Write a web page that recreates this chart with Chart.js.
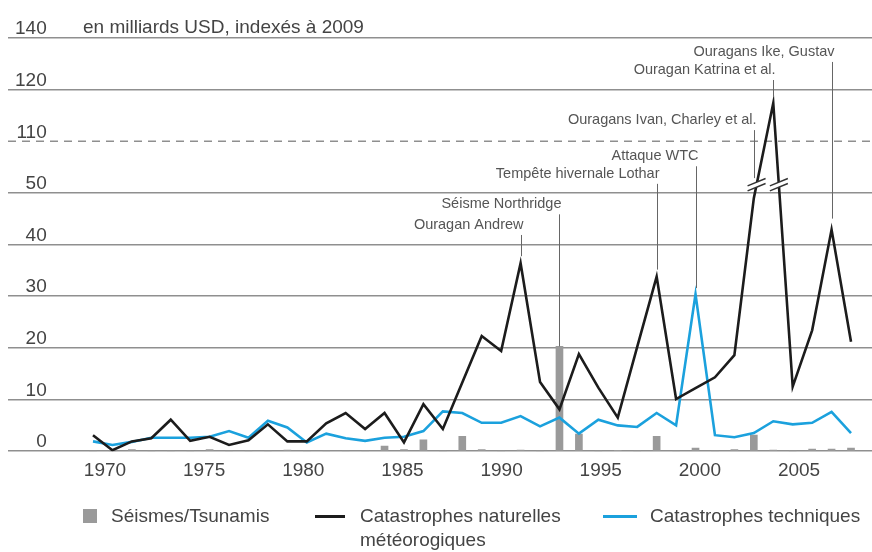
<!DOCTYPE html>
<html lang="fr">
<head>
<meta charset="utf-8">
<title>Catastrophes 1970-2009</title>
<script src="https://cdn.jsdelivr.net/npm/chart.js@4.4.1/dist/chart.umd.min.js"></script>
<style>
  body { margin: 0; background: #fff; }
  #wrap { position: relative; width: 872px; height: 552px; font-family: "Liberation Sans", Arial, sans-serif; color: #444; }
  #chart { position: absolute; left: 0; top: 0; }
  .txt { position: absolute; font-size: 19px; line-height: 24px; white-space: nowrap; }
  .key { position: absolute; }
</style>
</head>
<body>
<div id="wrap">
  <canvas id="chart" width="872" height="552"></canvas>
  <div class="txt" style="left:83px; top:15px;">en milliards USD, indexés à 2009</div>

  <div class="key" style="left:83px; top:509px; width:14px; height:14px; background:#9a9a9a;"></div>
  <div class="txt" style="left:111px; top:504px;">Séismes/Tsunamis</div>
  <div class="key" style="left:315px; top:515px; width:30px; height:3px; background:#1c1c1c;"></div>
  <div class="txt" style="left:360px; top:504px;">Catastrophes naturelles<br>météorogiques</div>
  <div class="key" style="left:603px; top:515px; width:34px; height:3px; background:#1ba1dd;"></div>
  <div class="txt" style="left:650px; top:504px;">Catastrophes techniques</div>
</div>

<script>
// --- Data (en milliards USD, indexés à 2009) ---
const years = [1970, 1971, 1972, 1973, 1974, 1975, 1976, 1977, 1978, 1979,
               1980, 1981, 1982, 1983, 1984, 1985, 1986, 1987, 1988, 1989,
               1990, 1991, 1992, 1993, 1994, 1995, 1996, 1997, 1998, 1999,
               2000, 2001, 2002, 2003, 2004, 2005, 2006, 2007, 2008, 2009];

const quakes = [0, 0, 0.3, 0, 0, 0, 0.3, 0, 0, 0,
                0.2, 0, 0, 0, 0, 1.0, 0.3, 2.2, 0, 2.9,
                0.3, 0, 0.2, 0, 20.3, 3.3, 0, 0.1, 0, 2.9,
                0, 0.6, 0, 0.3, 3.1, 0.2, 0, 0.4, 0.4, 0.6];

const natural = [3.1, 0.2, 1.9, 2.5, 6.1, 2.0, 2.8, 1.2, 2.1, 5.2,
                 1.9, 1.9, 5.4, 7.4, 4.3, 7.4, 1.7, 9.1, 4.3, 13.3,
                 22.3, 19.4, 36.4, 13.4, 8.1, 18.8, 12.3, 6.5, 20.2, 33.8,
                 10.1, 12.2, 14.3, 18.6, 49, 117.4, 12.5, 23.4, 42.9, 21.2];

const technical = [1.9, 1.2, 1.8, 2.6, 2.6, 2.6, 2.8, 3.9, 2.6, 5.9,
                   4.6, 1.7, 3.4, 2.5, 2.0, 2.6, 2.8, 3.9, 7.7, 7.4,
                   5.5, 5.5, 6.8, 4.8, 6.5, 3.4, 6.1, 5.0, 4.7, 7.4,
                   5.0, 30.4, 3.1, 2.7, 3.5, 5.8, 5.2, 5.5, 7.6, 3.5];

// broken axis: every tick value gets the same band height
const tickValues = [0, 10, 20, 30, 40, 50, 110, 120, 140];
const tickYears = [1970, 1975, 1980, 1985, 1990, 1995, 2000, 2005];

const notes = [
  { year: 1992, text: "Ouragan Andrew", set: 1, level: 43.8, gap: 7 },
  { year: 1994, text: "Séisme Northridge", set: 0, level: 47.8, gap: 0 },
  { year: 1999, text: "Tempête hivernale Lothar", set: 1, level: 53.7, gap: 7 },
  { year: 2001, text: "Attaque WTC", set: 2, level: 57.1, gap: 6 },
  { year: 2004, text: "Ouragans Ivan, Charley et al.", set: 1, level: 64.1, gap: 20 },
  { year: 2005, text: "Ouragan Katrina et al.", set: 1, level: 73.8, gap: 6 },
  { year: 2008, text: "Ouragans Ike, Gustav", set: 1, level: 77.3, gap: 11 }
];

const FONT = '"Liberation Sans", Arial, sans-serif';
const BREAK_AT = 60;      // dashed line (110)
const BREAK_MARK = 51.6;  // where the // marks sit on the black line

// value -> position on the broken axis (10 per band)
function toAxis(v) {
  for (let i = 1; i < tickValues.length; i++) {
    if (v <= tickValues[i]) {
      const a = tickValues[i - 1], b = tickValues[i];
      return (i - 1 + (v - a) / (b - a)) * 10;
    }
  }
  return (tickValues.length - 1) * 10;
}

const pts = (arr) => arr.map((v, i) => ({ x: years[i], y: toAxis(v) }));

// --- Extra drawing: dashed break line, // marks, notes ---
const decor = {
  id: "decor",
  beforeDatasetsDraw(chart) {
    const { ctx, chartArea, scales } = chart;
    const y = scales.y.getPixelForValue(BREAK_AT);
    ctx.save();
    ctx.strokeStyle = "#8f8f8f";
    ctx.lineWidth = 1.6;
    ctx.setLineDash([8, 6]);
    ctx.beginPath();
    ctx.moveTo(chartArea.left, y);
    ctx.lineTo(chartArea.right, y);
    ctx.stroke();
    ctx.restore();
  },
  afterDatasetsDraw(chart) {
    const { ctx, scales } = chart;
    const line = chart.getDatasetMeta(1).data;
    const yb = scales.y.getPixelForValue(BREAK_MARK);

    // break marks where the black line crosses the break
    for (let i = 0; i < line.length - 1; i++) {
      const p = line[i], q = line[i + 1];
      if ((p.y - yb) * (q.y - yb) >= 0) continue;
      const cx = p.x + (q.x - p.x) * (yb - p.y) / (q.y - p.y);
      ctx.save();
      ctx.translate(cx, yb);
      ctx.fillStyle = "#fff";
      ctx.beginPath();
      ctx.moveTo(-9, 1.2); ctx.lineTo(9, -6.2); ctx.lineTo(9, -1.2); ctx.lineTo(-9, 6.2);
      ctx.closePath();
      ctx.fill();
      ctx.strokeStyle = "#333";
      ctx.lineWidth = 1.4;
      ctx.beginPath();
      ctx.moveTo(-9, 1.2); ctx.lineTo(9, -6.2);
      ctx.moveTo(-9, 6.2); ctx.lineTo(9, -1.2);
      ctx.stroke();
      ctx.restore();
    }

    // event notes
    ctx.save();
    ctx.font = "14.5px " + FONT;
    ctx.fillStyle = "#555";
    ctx.strokeStyle = "#666";
    ctx.lineWidth = 1;
    ctx.textAlign = "right";
    ctx.textBaseline = "middle";
    notes.forEach(n => {
      const el = chart.getDatasetMeta(n.set).data[years.indexOf(n.year)];
      const x = Math.round(el.x) + 0.5;
      const ty = scales.y.getPixelForValue(n.level);
      ctx.fillText(n.text, x + 2, ty);
      ctx.beginPath();
      ctx.moveTo(x, ty + 10);
      ctx.lineTo(x, el.y - n.gap);
      ctx.stroke();
    });
    ctx.restore();
  }
};

// --- Chart ---
new Chart(document.getElementById("chart"), {
  type: "line",
  data: {
    datasets: [
      {
        type: "bar",
        label: "Séismes/Tsunamis",
        data: pts(quakes),
        backgroundColor: "#9a9a9a",
        barThickness: 7,
        order: 3
      },
      {
        label: "Catastrophes naturelles météorogiques",
        data: pts(natural),
        borderColor: "#1c1c1c",
        borderWidth: 2.6,
        pointRadius: 0,
        tension: 0,
        order: 1
      },
      {
        label: "Catastrophes techniques",
        data: pts(technical),
        borderColor: "#1ba1dd",
        borderWidth: 2.6,
        pointRadius: 0,
        tension: 0,
        order: 2
      }
    ]
  },
  options: {
    responsive: false,
    animation: false,
    devicePixelRatio: 1,
    layout: { padding: { left: 8, right: 0, top: 38, bottom: 70 } },
    plugins: { legend: { display: false }, tooltip: { enabled: false } },
    scales: {
      x: {
        type: "linear",
        display: false,
        offset: false,
        min: 1965.627,
        max: 2010.08
      },
      x2: {
        type: "linear",
        position: "bottom",
        offset: false,
        min: 1965.11,
        max: 2008.68,
        grid: { display: false },
        border: { display: false },
        afterBuildTicks: (s) => { s.ticks = tickYears.map(v => ({ value: v })); },
        ticks: {
          padding: 0,
          autoSkip: false,
          maxRotation: 0,
          color: "#444",
          font: { family: FONT, size: 19 },
          callback: (v) => String(v)
        }
      },
      y: {
        type: "linear",
        min: 0,
        max: 80,
        border: { display: false },
        afterFit: (s) => { s.width = 0; },
        grid: {
          drawTicks: false,
          lineWidth: 1.6,
          color: (c) => (c.tick && c.tick.value === BREAK_AT) ? "rgba(0,0,0,0)" : "#8f8f8f"
        },
        ticks: {
          stepSize: 10,
          mirror: true,
          crossAlign: "far",
          padding: 7,
          labelOffset: -9,
          color: "#444",
          font: { family: FONT, size: 19 },
          callback: (v) => tickValues[Math.round(v / 10)]
        }
      }
    }
  },
  plugins: [decor]
});
</script>
</body>
</html>
